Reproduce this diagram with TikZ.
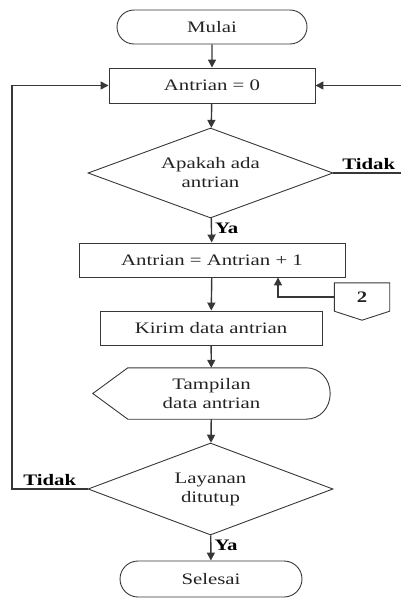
\documentclass[tikz,border=0pt]{standalone}
\usepackage{fontspec}
\setmainfont{Liberation Serif}[FakeStretch=1.3]
\usetikzlibrary{shapes.geometric,shapes.misc,arrows.meta}
\definecolor{garis}{RGB}{55,55,55}
\definecolor{teks}{RGB}{35,35,35}

\begin{document}
\begin{tikzpicture}[x=1pt,y=-1pt,
  font=\fontsize{16}{19}\selectfont,
  terminal/.style={draw=garis, line width=0.9pt, rounded rectangle, inner sep=0pt, text=teks},
  proses/.style={draw=garis, line width=0.9pt, rectangle, inner sep=0pt, text=teks},
  keputusan/.style={draw=garis, line width=0.9pt, diamond, aspect=2.7, inner sep=0pt, align=center, text=teks},
  bentuk/.style={rectangle, inner sep=0pt, align=center, text=teks},
  panah/.style={draw=garis, line width=1.4pt, -{Triangle[length=8pt,width=8pt]}},
  ket/.style={font=\fontsize{16}{19}\selectfont\bfseries, text=black, inner sep=3pt}]
\useasboundingbox (0,0) rectangle (400,599);

% simbol utama
\node[terminal, minimum width=190pt, minimum height=34pt] (mulai) at (212,27) {Mulai};
\node[proses, minimum width=206pt, minimum height=35pt] (awal) at (212,85.5) {Antrian = 0};
\node[keputusan, minimum width=245pt, minimum height=90pt] (tanya) at (210.5,173) {Apakah ada\\antrian};
\node[proses, minimum width=266pt, minimum height=34pt] (tambah) at (212,260) {Antrian = Antrian + 1};
\node[proses, minimum width=222pt, minimum height=34pt] (kirim) at (211,328) {Kirim data antrian};
\node[bentuk, minimum width=237pt, minimum height=51pt] (tampil) at (211.5,393.5) {Tampilan\\data antrian};
\node[keputusan, minimum width=245pt, minimum height=92pt] (layanan) at (210.5,489) {Layanan\\ditutup};
\node[terminal, minimum width=182pt, minimum height=36pt] (selesai) at (211,579) {Selesai};
\node[bentuk, minimum width=55pt, minimum height=28pt, font=\fontsize{16}{19}\selectfont\bfseries] (sambung) at (362,297) {2};

% bentuk display
\draw[garis, line width=0.9pt] (tampil.west) -- ([xshift=35pt]tampil.north west)
  -- ([xshift=-24pt]tampil.north east)
  .. controls ([xshift=-10pt]tampil.north east) and ([yshift=14pt]tampil.east) .. (tampil.east)
  .. controls ([yshift=-14pt]tampil.east) and ([xshift=-10pt]tampil.south east) .. ([xshift=-24pt]tampil.south east)
  -- ([xshift=35pt]tampil.south west) -- cycle;

% penghubung halaman
\draw[garis, line width=0.9pt] (sambung.north west) -- (sambung.north east) -- (sambung.south east)
  -- ([yshift=-9pt]sambung.south) -- (sambung.south west) -- cycle;

% alur
\draw[panah] (mulai) -- (awal);
\draw[panah] (awal) -- (tanya);
\draw[panah] (tanya) -- node[ket, right, pos=0.4] {Ya} (tambah);
\draw[panah] (tambah) -- (kirim);
\draw[panah] (kirim) -- (tampil);
\draw[panah] (tampil) -- (layanan);
\draw[panah] (layanan) -- node[ket, right, pos=0.4] {Ya} (selesai);
\draw[panah] (sambung.west) -| ([xshift=66pt]tambah.south);
\draw[panah] (tanya.east) -- node[ket, above, pos=0.5] {Tidak} (404,173) |- (awal.east);
\draw[panah] (layanan.west) -- node[ket, above, pos=0.5] {Tidak} (12,489) |- (awal.west);
\end{tikzpicture}
\end{document}
